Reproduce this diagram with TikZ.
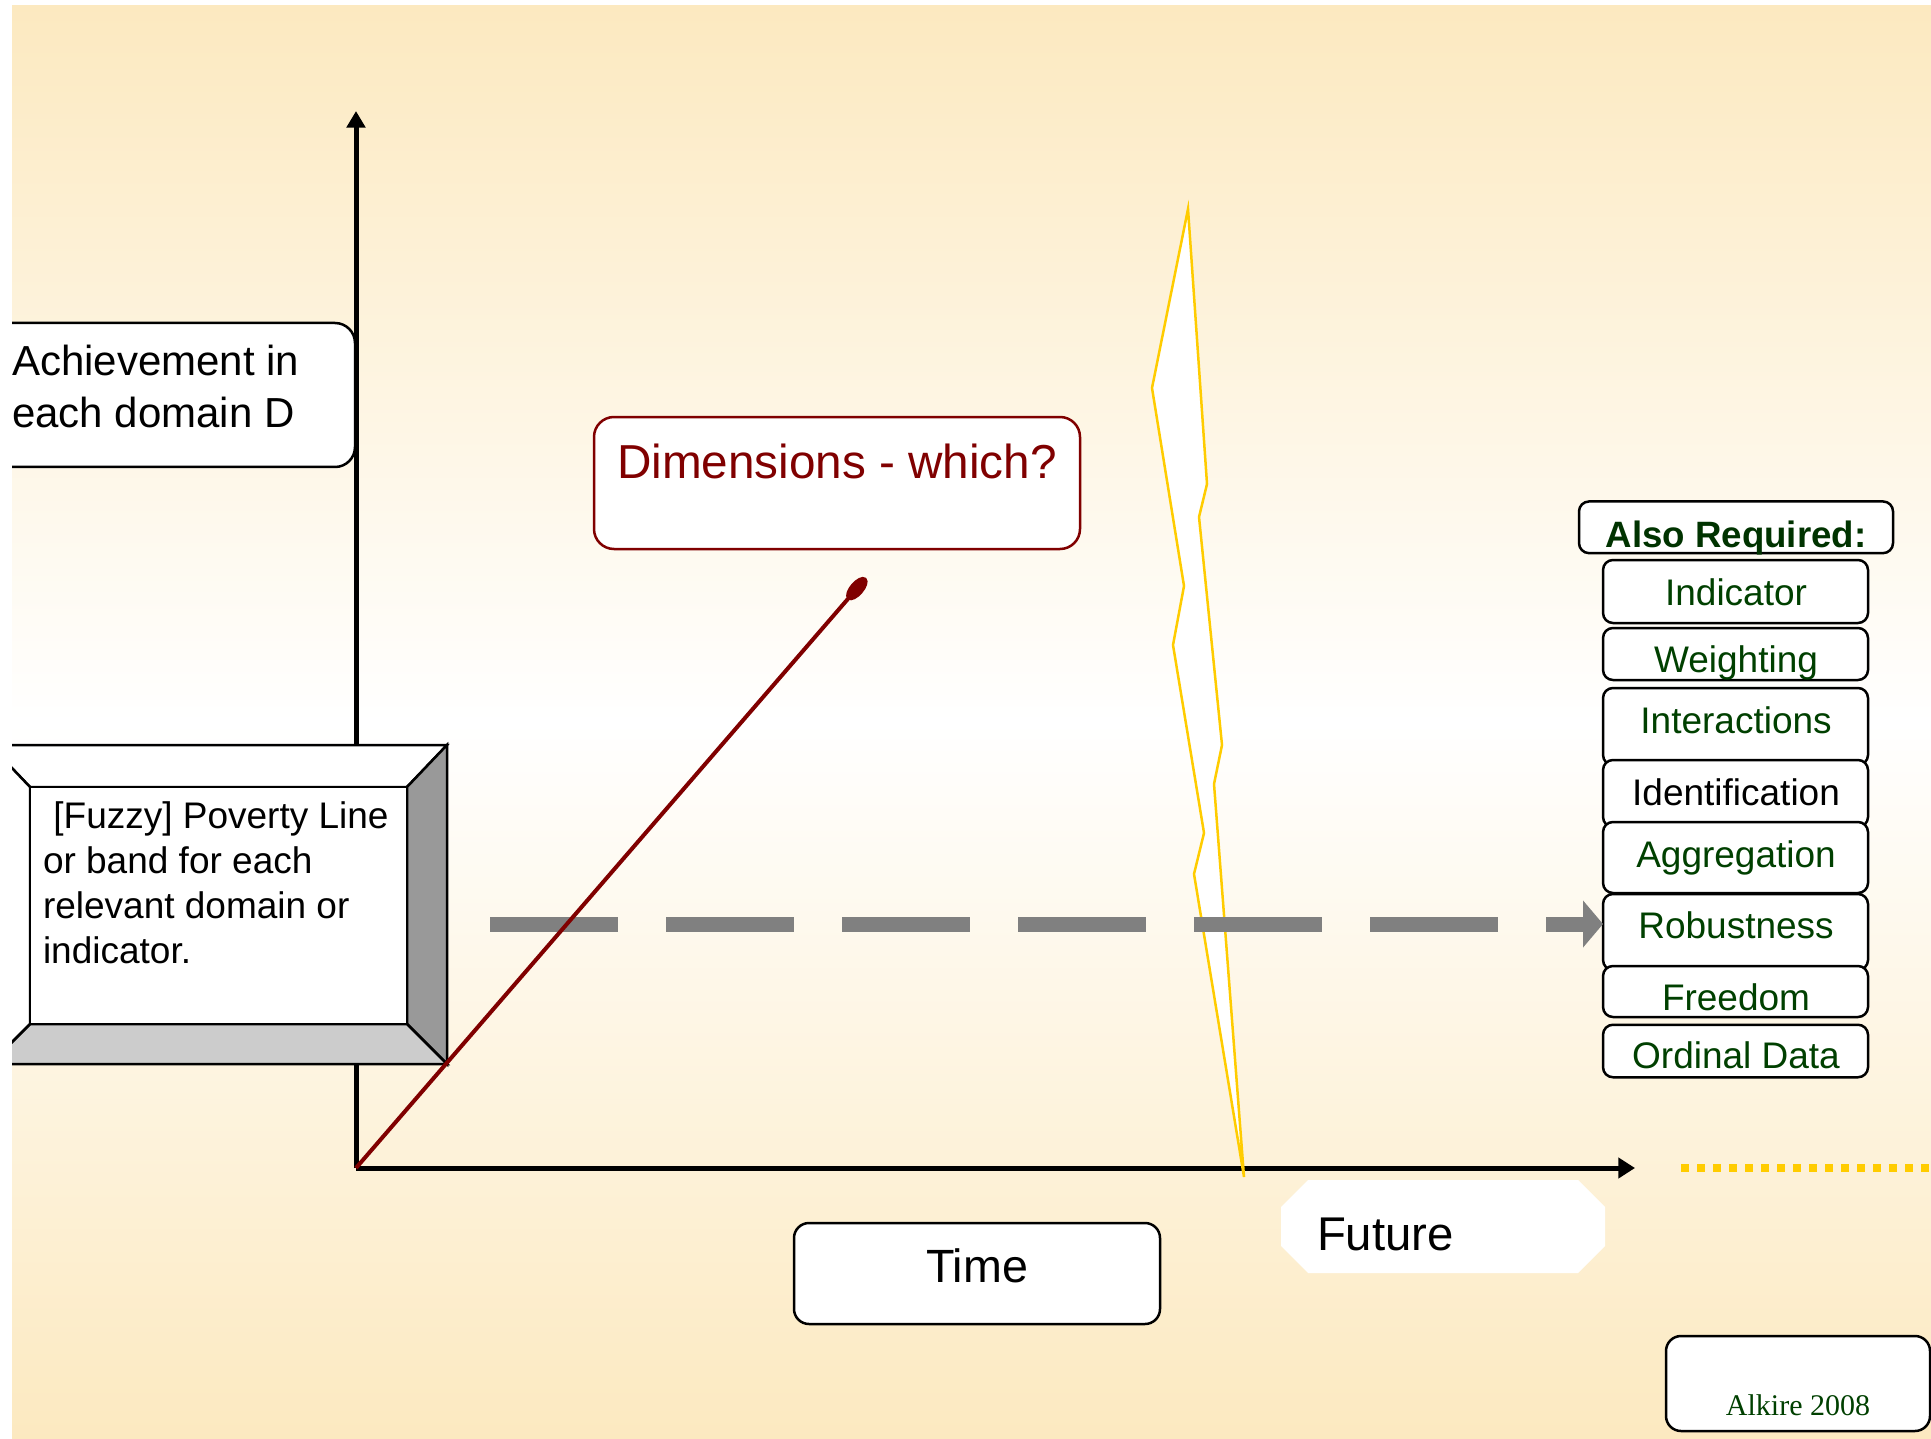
\documentclass[tikz,border=0pt]{standalone}
\usepackage{fontspec}
\setmainfont{Liberation Sans}
\newfontfamily\serifsig{Liberation Serif}
\usetikzlibrary{arrows.meta}

\begin{document}
\begin{tikzpicture}[x=0.3pt,y=-0.3pt,
  box/.style={draw=drawColor,fill=fillColor,line width=0.75pt,rounded corners=3pt,inner sep=0pt,outer sep=0pt},
  lbl/.style={anchor=base,inner sep=0pt,outer sep=0pt},
  stackbox/.style={box,minimum width=79.5pt},
  stacktext/.style={lbl,text=greenColor,font=\fontsize{11.1}{13.3}\selectfont}]
\definecolor[named]{fillColor}{rgb}{1.00,1.00,1.00}
\definecolor[named]{bgColor}{rgb}{0.988,0.914,0.753}
\definecolor[named]{drawColor}{rgb}{0.00,0.00,0.00}
\definecolor[named]{redColor}{rgb}{0.50,0.00,0.00}
\definecolor[named]{greenColor}{rgb}{0.00,0.25,0.00}
\definecolor[named]{headColor}{rgb}{0.00,0.20,0.00}
\definecolor[named]{dashColor}{rgb}{0.50,0.50,0.50}
\definecolor[named]{boltColor}{rgb}{1.00,0.80,0.00}
\definecolor[named]{sideColor}{rgb}{0.60,0.60,0.60}
\definecolor[named]{baseColor}{rgb}{0.80,0.80,0.80}
\path[use as bounding box,fill=fillColor] (0,0) rectangle (1931,1439);
\shade[top color=bgColor,bottom color=bgColor,middle color=fillColor] (12,6) rectangle (1931,1439);
\begin{scope}
\path[clip] (12,6) rectangle (1931,1439);

\node[box,rounded corners=6pt,minimum width=115.5pt,minimum height=43.2pt] (achbox) at (162.5,395) {};
\node[lbl,anchor=base west,align=left,font=\fontsize{12.6}{15.6}\selectfont] (achtext) at (12,428) {Achievement in\\each domain D};

\coordinate (origin) at (356,1168);
\coordinate (ytop) at (356,111);
\coordinate (xend) at (1635,1168);
\draw[draw=drawColor,line width=1.5pt,-{Triangle[length=5pt,width=5.5pt]}] (origin) -- (ytop);
\draw[draw=drawColor,line width=1.5pt,-{Triangle[length=5pt,width=6pt]}] (origin) -- (xend);

\coordinate (dotstart) at (1681,1168);
\coordinate (dotend) at (1931,1168);
\draw[draw=boltColor,line width=2.4pt,dash pattern=on 2.4pt off 2.4pt] (dotstart) -- (dotend);

\path[draw=drawColor,fill=fillColor,line width=0.75pt] (-10,745) -- (447,745) -- (407,787) -- (30,787) -- cycle;
\path[draw=drawColor,fill=sideColor,line width=0.75pt] (447,745) -- (447,1064) -- (407,1024) -- (407,787) -- cycle;
\path[draw=drawColor,fill=baseColor,line width=0.75pt] (447,1064) -- (-10,1064) -- (30,1024) -- (407,1024) -- cycle;
\path[draw=drawColor,fill=fillColor,line width=0.75pt] (-10,745) -- (30,787) -- (30,1024) -- (-10,1064) -- cycle;
\path[draw=drawColor,fill=fillColor,line width=0.75pt] (30,787) rectangle (407,1024);
\node[lbl,anchor=base west,align=left,font=\fontsize{11.1}{13.5}\selectfont] (fuzzytext) at (43,963) {\hspace*{0.28em}[Fuzzy] Poverty Line\\or band for each\\relevant domain or\\indicator.};

\node[box,draw=redColor,rounded corners=6pt,minimum width=145.8pt,minimum height=39.6pt] (dimbox) at (837,483) {};
\node[lbl,text=redColor,font=\fontsize{14.3}{17}\selectfont] (dimtext) at (837,478) {Dimensions - which?};

\path[draw=boltColor,fill=fillColor,line width=0.75pt,line join=miter] (1188,209) -- (1152,388) -- (1184,586) -- (1173,645) -- (1204,833) -- (1194,874) -- (1244,1177) --
	(1214,784) -- (1222,745) -- (1199,517) -- (1207,484) -- cycle;

\node[box,minimum width=94.2pt,minimum height=15.5pt] (alsobox) at (1736,527.3) {};
\node[lbl,text=headColor,font=\bfseries\fontsize{11}{13}\selectfont] (alsotext) at (1736,547.4) {Also Required:};
\node[stackbox,minimum height=18.9pt] (indbox) at (1735.5,591.5) {};
\node[stacktext] (indtext) at (1736,605.6) {Indicator};
\node[stackbox,minimum height=15.6pt] (wtbox) at (1735.5,654) {};
\node[stacktext] (wttext) at (1736,672) {Weighting};
\node[stackbox,minimum height=23.1pt] (intbox) at (1735.5,726.5) {};
\node[stacktext] (inttext) at (1736,733.8) {Interactions};
\node[stackbox,minimum height=20.1pt] (idbox) at (1735.5,793.5) {};
\node[stacktext,text=drawColor] (idtext) at (1736,805.7) {Identification};
\node[stackbox,minimum height=21.3pt] (aggbox) at (1735.5,857.5) {};
\node[stacktext] (aggtext) at (1736,867) {Aggregation};
\node[stackbox,minimum height=22.8pt] (rob) at (1735.5,932) {};
\node[stacktext] (robtext) at (1736,938.5) {Robustness};
\node[stackbox,minimum height=15.3pt] (freebox) at (1735.5,991.5) {};
\node[stacktext] (freetext) at (1736,1010.5) {Freedom};
\node[stackbox,minimum height=15.75pt] (ordbox) at (1735.5,1051) {};
\node[stacktext] (ordtext) at (1736,1068.6) {Ordinal Data};

\coordinate (dashstart) at (490,924);
\draw[draw=dashColor,line width=4.5pt,dash pattern=on 38.4pt off 14.4pt,-{Triangle[length=6pt,width=13.8pt]}] (dashstart) -- (dashstart -| rob.west);

\coordinate (dimtip) at (866,578);
\draw[draw=redColor,line width=1.2pt,-{Ellipse[length=8.4pt,width=4.2pt]}] (origin) -- (dimtip);

\node[box,rounded corners=4.5pt,minimum width=109.8pt,minimum height=30.3pt] (timebox) at (977,1273.5) {};
\node[lbl,font=\fontsize{14}{17}\selectfont] (timetext) at (977,1282) {Time};

\path[fill=fillColor] (1308,1180) -- (1578,1180) -- (1605,1207) -- (1605,1246) -- (1578,1273) -- (1308,1273) -- (1281,1246) -- (1281,1207) -- cycle;
\node[lbl,anchor=base west,font=\fontsize{14.2}{17}\selectfont] (futuretext) at (1317,1250) {Future};

\node[box,rounded corners=4.5pt,minimum width=79.2pt,minimum height=28.5pt] (alkbox) at (1798,1383.5) {};
\node[lbl,text=greenColor,font=\serifsig\fontsize{9}{11}\selectfont] (alktext) at (1798,1415) {Alkire 2008};
\end{scope}
\end{tikzpicture}
\end{document}
